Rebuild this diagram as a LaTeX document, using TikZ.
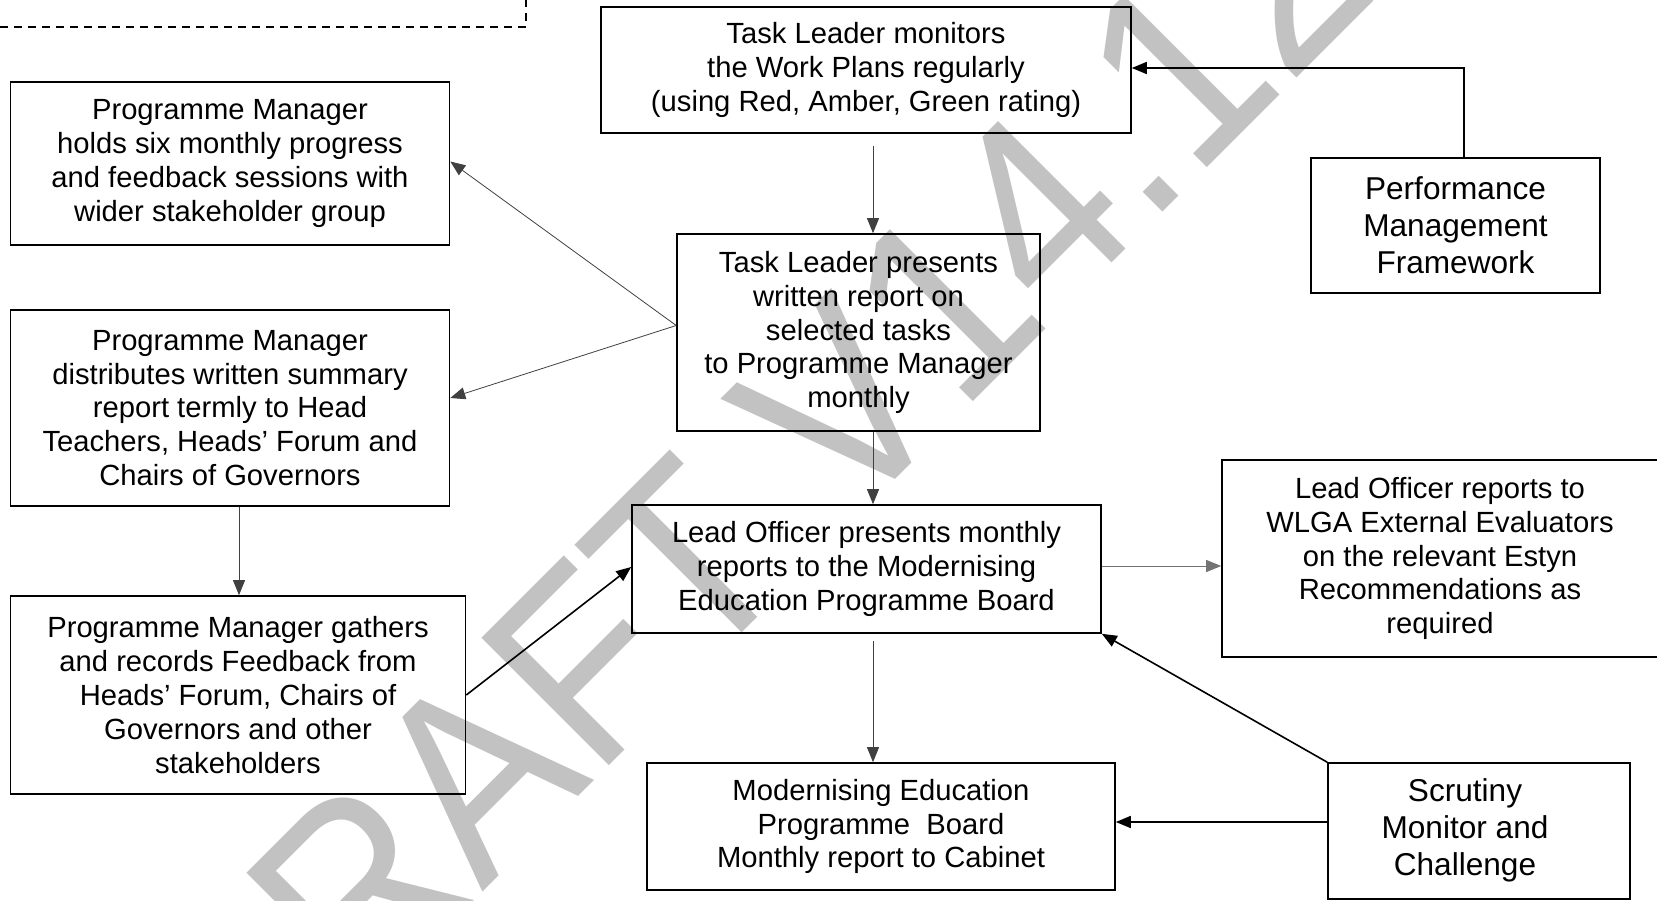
\documentclass[tikz,border=0pt]{standalone}
\usepackage{fontspec}
\setmainfont{Liberation Sans}
\usetikzlibrary{arrows.meta, positioning}

\begin{document}
\begin{tikzpicture}[x=1pt, y=-1pt,
    box/.style={draw=black, line width=1.6pt, inner sep=0pt, align=center, font=\fontsize{29.2}{33.8}\selectfont},
    big_box/.style={box, font=\fontsize{31.6}{37}\selectfont},
    thin_arrow/.style={draw=black!75, line width=0.8pt, -{Triangle[length=15pt, width=12pt]}},
    thick_arrow/.style={draw=black, line width=1.6pt, -{Triangle[length=15pt, width=12pt]}},
    water_mark/.style={text=black!24, font=\fontsize{262}{262}\selectfont, rotate=45, xscale=0.91, anchor=base west, inner sep=0pt}
]

\useasboundingbox (0,0) rectangle (1657,901);

% Watermark in the background
\begin{scope}
    \clip (0,0) rectangle (1657,901);
    \node[water_mark] (draft) at (239,1136) {DRAFT V14.12};
\end{scope}

% Corner of the dashed box at the top
\draw[line width=1.6pt, dash pattern=on 8pt off 6pt] (0,27) -- (526,27) -- (526,0);

% Left column
\node[box, minimum width=439pt, minimum height=163pt] (sixm) at (230,163.5)
    {Programme Manager\\holds six monthly progress\\and feedback sessions with\\wider stakeholder group};
\node[box, minimum width=439pt, minimum height=196pt] (distrib) at (230,408)
    {Programme Manager\\distributes written summary\\report termly to Head\\Teachers, Heads’ Forum and\\Chairs of Governors};
\node[box, minimum width=455pt, minimum height=198pt] (gathers) at (238,695)
    {Programme Manager gathers\\and records Feedback from\\Heads’ Forum, Chairs of\\Governors and other\\stakeholders};

% Centre column
\node[box, minimum width=530pt, minimum height=126pt] (monitor) at (866,70)
    {Task Leader monitors\\the Work Plans regularly\\(using Red, Amber, Green rating)};
\node[box, minimum width=363pt, minimum height=197pt] (present) at (858.5,332.5)
    {Task Leader presents\\written report on\\selected tasks\\to Programme Manager\\monthly};
\node[box, minimum width=469pt, minimum height=128pt] (lead) at (866.5,569)
    {Lead Officer presents monthly\\reports to the Modernising\\Education Programme Board};
\node[box, minimum width=468pt, minimum height=127pt] (meb) at (881,826.5)
    {Modernising Education\\Programme~ Board\\Monthly report to Cabinet};

% Right column
\node[big_box, minimum width=289pt, minimum height=135pt] (pmf) at (1455.5,225.5)
    {Performance\\Management\\Framework};
\node[box, minimum width=436pt, minimum height=197pt] (wlga) at (1440,558.5)
    {Lead Officer reports to\\WLGA External Evaluators\\on the relevant Estyn\\Recommendations as\\required};
\node[big_box, minimum width=302pt, minimum height=136pt] (scrutiny) at (1479,831)
    {\begin{tabular}{@{}c@{\hspace{28pt}}}Scrutiny\\Monitor and\\Challenge\end{tabular}};

% Connectors
\draw[thin_arrow, shorten <=12pt] ([xshift=7pt]monitor.south) -- ([xshift=7pt]monitor.south |- present.north);
\draw[thin_arrow] ([xshift=14.5pt]present.south) -- ([xshift=14.5pt]present.south |- lead.north);
\draw[thin_arrow, shorten <=7pt] ([xshift=6.5pt]lead.south) -- ([xshift=6.5pt]lead.south |- meb.north);
\draw[thin_arrow] ([yshift=7pt]present.west) -- ([yshift=2pt]sixm.east);
\draw[thin_arrow] ([yshift=7pt]present.west) -- ([yshift=10pt]distrib.east);
\draw[thin_arrow] ([xshift=9pt]distrib.south) -- ([xshift=9pt]distrib.south |- gathers.north);
\draw[thick_arrow] (gathers.east) -- ([yshift=2pt]lead.west);
\draw[draw=black!55, line width=0.8pt, -{Triangle[length=15pt, width=12pt]}] ([yshift=3pt]lead.east) -- ([yshift=3pt]lead.east -| wlga.west);
\draw[thick_arrow] ([xshift=8.5pt]pmf.north) |- ([yshift=2pt]monitor.east);
\draw[thick_arrow] (scrutiny.north west) -- (lead.south east);
\draw[thick_arrow] ([yshift=4.5pt]meb.east -| scrutiny.west) -- ([yshift=4.5pt]meb.east);

\end{tikzpicture}
\end{document}
